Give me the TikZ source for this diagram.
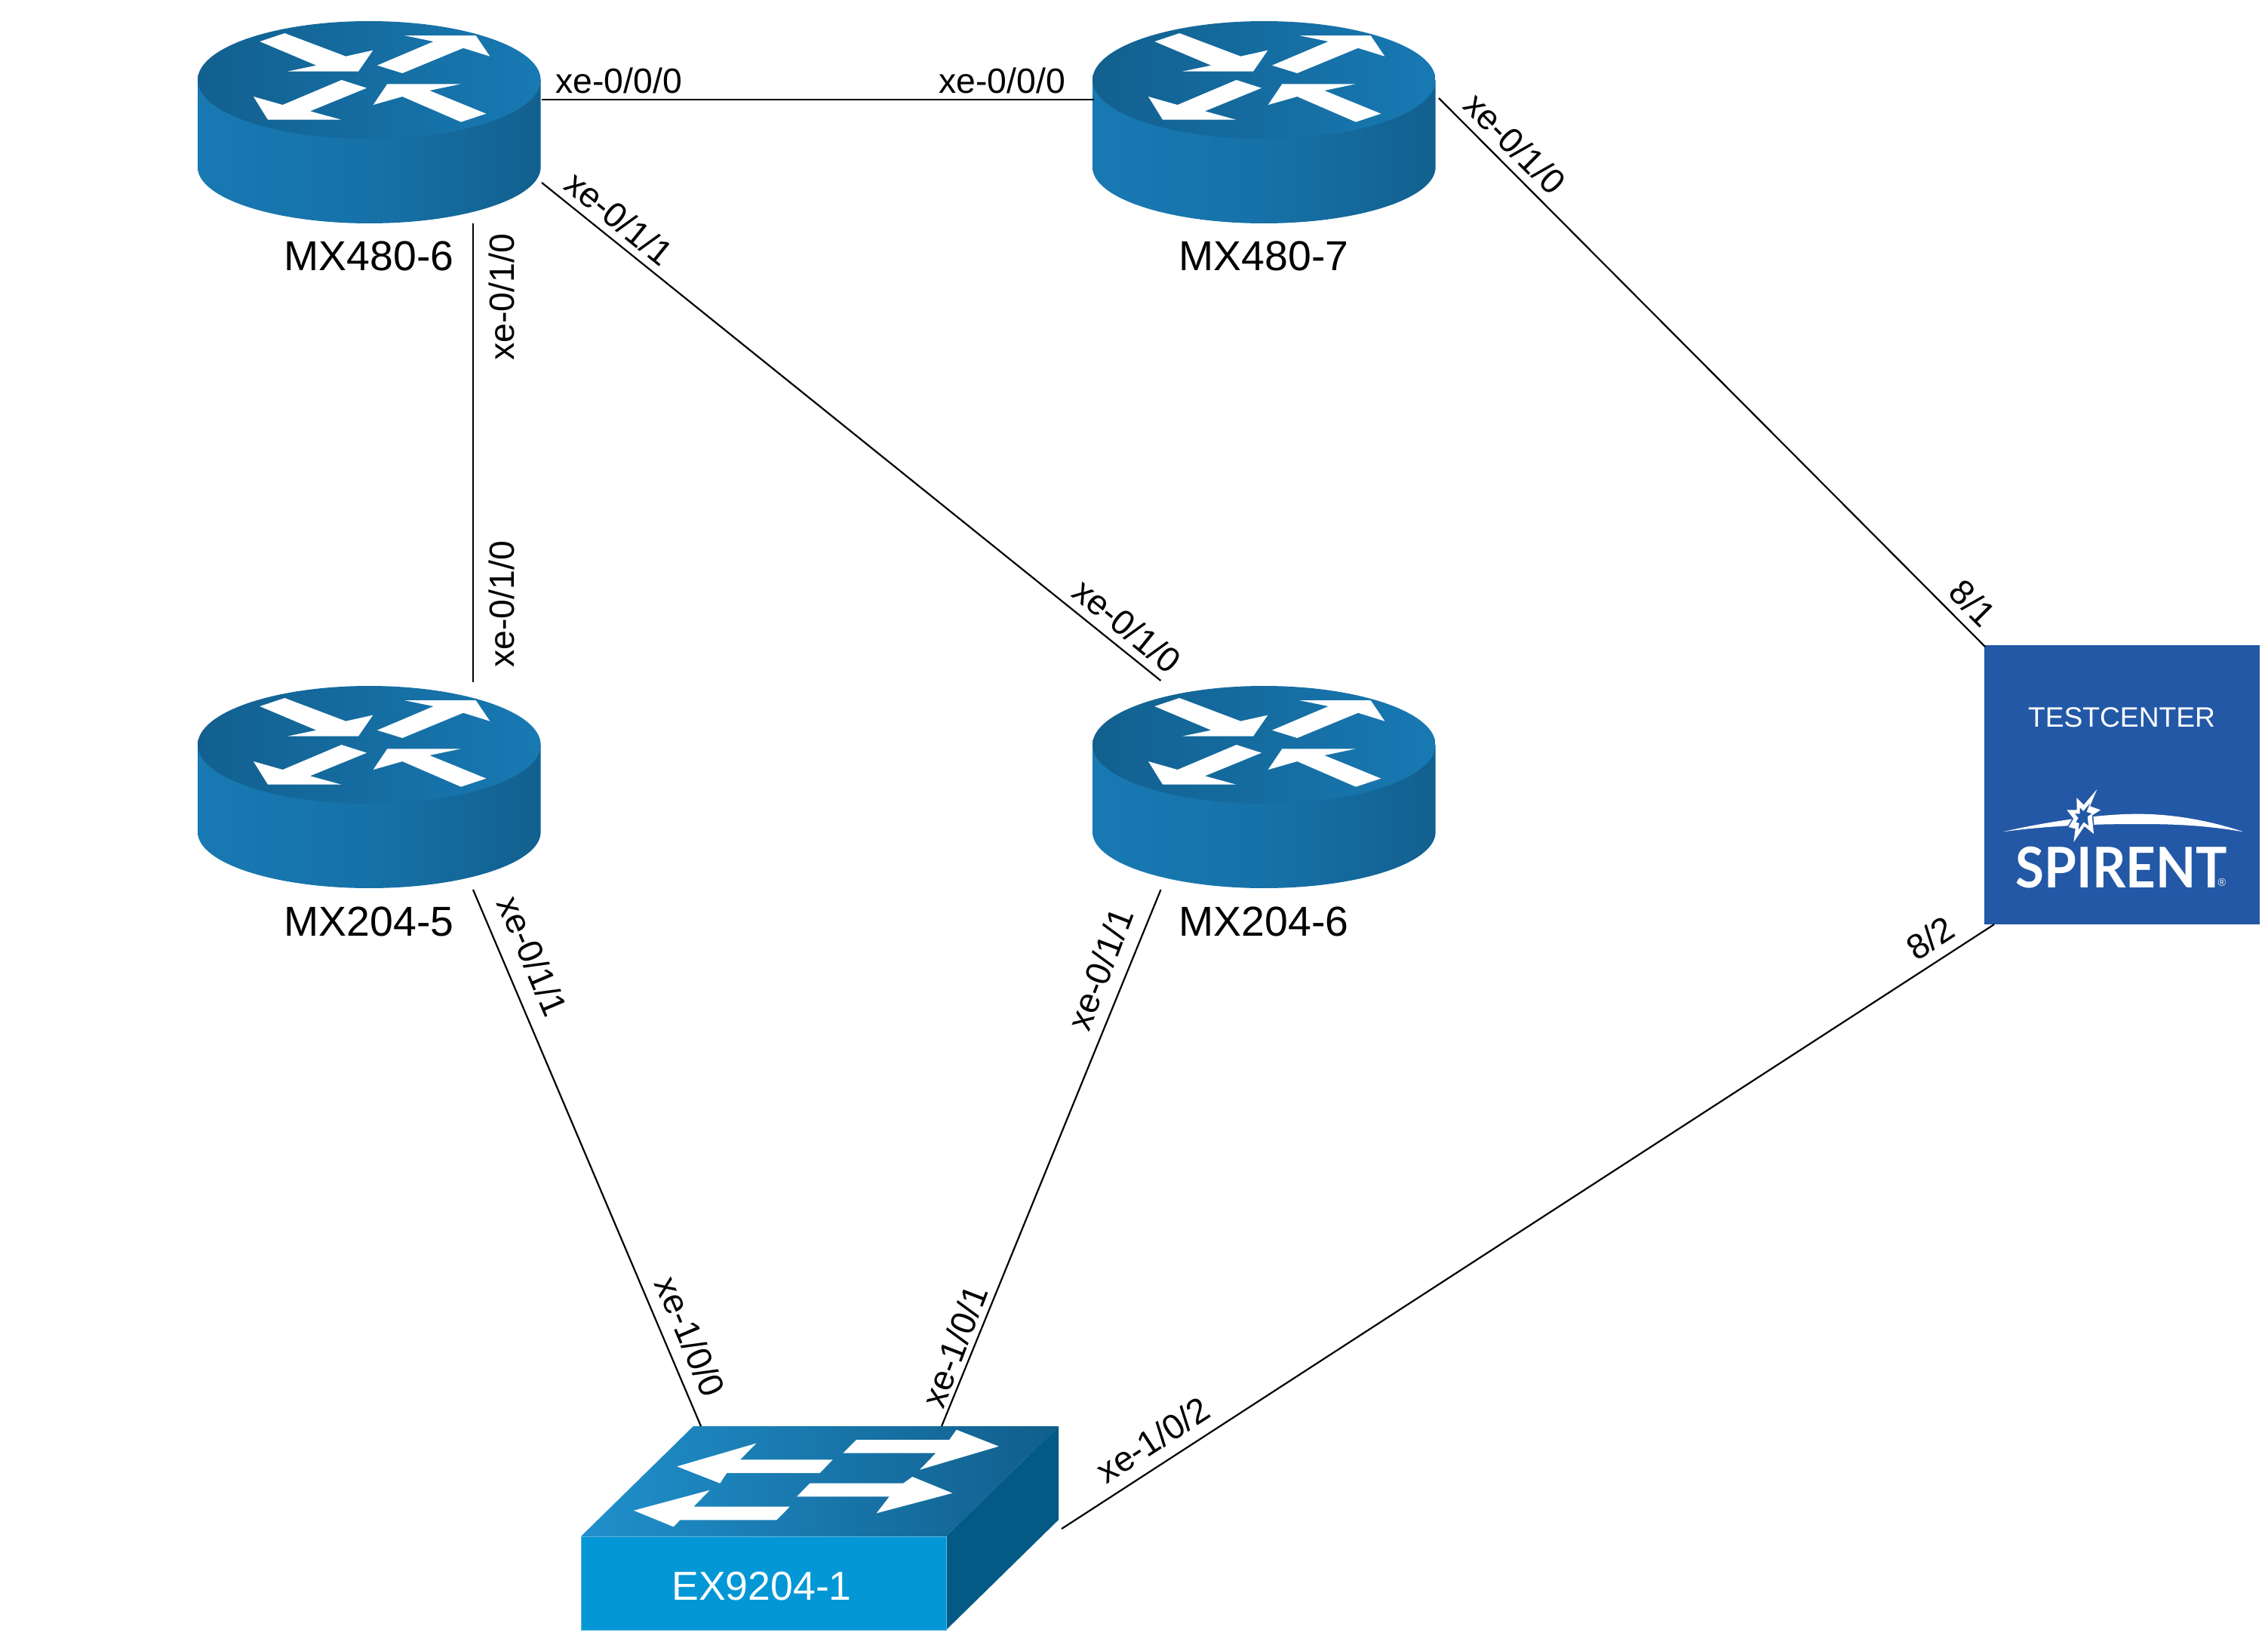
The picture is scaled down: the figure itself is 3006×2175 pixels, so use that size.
\documentclass[tikz,border=0pt]{standalone}
\usepackage{fontspec}
\setmainfont{Liberation Sans}
\newfontfamily\logofont{Lato}
\usetikzlibrary{calc}
\definecolor{rlight}{HTML}{1879B3}
\definecolor{rdark}{HTML}{12608F}
\definecolor{swfront}{HTML}{0397D6}
\definecolor{swedge}{HTML}{5CB8E2}
\definecolor{swside}{HTML}{025A85}
\definecolor{swtopa}{HTML}{2090CC}
\definecolor{swtopb}{HTML}{115E8B}
\definecolor{spirentblue}{HTML}{2358A6}
\tikzset{
  devbox/.style={inner sep=0pt,outer sep=0pt,minimum width=113.75pt,minimum height=67pt},
  swbox/.style={inner sep=0pt,outer sep=0pt,minimum width=158.5pt,minimum height=67.5pt},
  tcbox/.style={inner sep=0pt,outer sep=0pt,minimum width=91.25pt,minimum height=92.5pt,fill=spirentblue},
  link/.style={draw=black,line width=0.55pt},
  portlabel/.style={inner sep=0pt,font=\fontsize{11.6}{13}\selectfont},
  devlabel/.style={inner sep=0pt,font=\fontsize{13.85}{15}\selectfont},
  whitefill/.style={fill=white,draw=none},
}
\newcommand{\routershape}[2]{%
  \begin{scope}[shift={(#1,#2)},x=0.083333pt,y=-0.083333pt]
    \path[left color=rlight,right color=rdark,middle color=rlight!70!rdark]
      (66,318) -- (66,665) arc (180:360:56.83pt and 18.58pt) -- (1430,318) -- cycle;
    \path[left color=rdark,right color=rlight] (748,318) ellipse [x radius=56.83pt,y radius=19.5pt];
    \path[whitefill] (313,165) -- (412,132) -- (655,224) -- (763,200) -- (705,284) -- (423,284) -- (538,260) -- cycle;
    \path[whitefill] (780,260) -- (1004,165) -- (888,141) -- (1172,141) -- (1228,224) -- (1122,191) -- (880,291) -- cycle;
    \path[whitefill] (738,350) -- (638,318) -- (404,417) -- (288,384) -- (345,476) -- (637,476) -- (513,442) -- cycle;
    \path[whitefill] (1112,334) -- (820,334) -- (764,417) -- (880,384) -- (1113,485) -- (1213,452) -- (988,360) -- cycle;
  \end{scope}}
\begin{document}
\begin{tikzpicture}[x=0.25pt,y=-0.25pt]
\useasboundingbox (0,0) rectangle (3006,2175);

% routers
\routershape{240}{0}
\routershape{1426}{0}
\routershape{240}{881}
\routershape{1426}{881}
\node[devbox] (mx6) at (489.5,162) {};
\node[devbox] (mx7) at (1675.5,162) {};
\node[devbox] (mx5) at (489.5,1043) {};
\node[devbox] (mx8) at (1675.5,1043) {};
\node[devlabel] (lmx6) at (489,339) {MX480-6};
\node[devlabel] (lmx7) at (1675,339) {MX480-7};
\node[devlabel] (lmx5) at (489,1221) {MX204-5};
\node[devlabel] (lmx8) at (1675,1221) {MX204-6};

% switch
\path[left color=swtopa,right color=swtopb] (919,1890) -- (1403,1890) -- (1254,2036) -- (770,2036) -- cycle;
\path[fill=swside] (1403,1890) -- (1403,2014) -- (1254,2160) -- (1254,2036) -- cycle;
\path[fill=swfront,draw=swedge,line width=0.2pt] (770,2036) rectangle (1254,2160);
\path[whitefill] (897.3,1943.3) -- (1002.3,1912.7) -- (981,1934.3) -- (1103.7,1934.3) -- (1086.7,1952) -- (963.3,1952) -- (954.3,1965.7) -- cycle;
\path[whitefill] (840,2001.7) -- (940.7,1974.7) -- (919.3,1996.7) -- (1046.7,1996.7) -- (1029.3,2014.3) -- (901.3,2014.3) -- (892.7,2023.3) -- cycle;
\path[whitefill] (1135,1908) -- (1258.3,1908) -- (1267.7,1894.7) -- (1323.7,1916.7) -- (1219,1947.7) -- (1240.3,1925.7) -- (1117.3,1925.7) -- cycle;
\path[whitefill] (1073.3,1965.7) -- (1197,1965.7) -- (1209.3,1957) -- (1262.3,1978.7) -- (1161.7,2005.3) -- (1178.7,1983.3) -- (1056,1983.3) -- cycle;
\node[swbox] (sw) at (1086,2025) {};
\node[inner sep=0pt,text=white,font=\fontsize{13.4}{15}\selectfont] (lsw) at (1009.5,2102) {EX9204-1};

% Spirent box
\node[tcbox] (tc) at (2812.5,1040) {};
\node[inner sep=0pt,text=white,font=\fontsize{9.3}{11}\selectfont] (ltc) at (2812,951) {TESTCENTER};
\begin{scope}[shift={(2620,840)},x=0.083333pt,y=-0.083333pt]
  \path[whitefill] (103,787) .. controls (300,742) and (500,716) .. (640,716)
     .. controls (800,716) and (950,750) .. (1060,787)
     .. controls (900,760) and (780,756) .. (640,756)
     .. controls (500,756) and (300,760) .. (103,787) -- cycle;
\end{scope}
\begin{scope}[shift={(2720,1040)},x=0.083333pt,y=-0.083333pt]
  \path[fill=spirentblue,draw=spirentblue,line width=0.8pt] (178,18) -- (150,85) -- (192,100) -- (158,122) -- (165,195) -- (128,165) -- (85,228) -- (92,175) -- (65,168) -- (85,135) -- (58,100) -- (98,100) -- (97,52) -- (125,80) -- cycle;
  \path[whitefill] (178,18) -- (150,85) -- (192,100) -- (158,122) -- (165,195) -- (128,165) -- (85,228) -- (92,175) -- (65,168) -- (85,135) -- (58,100) -- (98,100) -- (97,52) -- (125,80) -- cycle;
  \path[fill=spirentblue] (150,74) -- (136,108) -- (157,115) -- (140,126) -- (144,162) -- (125,148) -- (104,179) -- (107,152) -- (94,149) -- (104,132) -- (90,115) -- (110,115) -- (110,91) -- (124,105) -- cycle;
\end{scope}
\node[inner sep=0pt,text=white,font=\logofont\bfseries\fontsize{18.6}{20}\selectfont] (lspirent) at (2812,1150) {\scalebox{0.93}[1]{SPIRENT}};
\node[inner sep=0pt,text=white,font=\fontsize{3.6}{4}\selectfont] (lreg) at (2945,1170) {®};

% connectors
\draw[link] ($(mx6.east)+(1,-30)$) -- ($(mx7.west)+(2,-30)$);
\draw[link] ($(mx6.east)+(1,80)$) -- ($(mx8.north)+(-137,-7)$);
\draw[link] ($(mx6.south)+(137.5,0)$) -- ($(mx5.north)+(137.5,-5)$);
\draw[link] ($(mx7.east)+(4,-32)$) -- ($(tc.north west)+(1,2)$);
\draw[link] ($(mx5.south)+(137.5,2)$) -- ($(sw.north)+(-157,0)$);
\draw[link] ($(mx8.south)+(-137,2)$) -- ($(sw.north)+(162,0)$);
\draw[link] ($(sw.east)+(4,1)$) -- ($(tc.south west)+(13,0)$);

% port labels
\node[portlabel] (p1) at (820,107) {xe-0/0/0};
\node[portlabel] (p2) at (1328,107) {xe-0/0/0};
\node[portlabel,rotate=-39] (p3) at (821,289) {xe-0/1/1};
\node[portlabel,rotate=-45] (p4) at (2008,190) {xe-0/1/0};
\node[portlabel,rotate=90] (p5) at (665,394) {xe-0/1/0};
\node[portlabel,rotate=90] (p6) at (665,801) {xe-0/1/0};
\node[portlabel,rotate=-39] (p7) at (1494,829) {xe-0/1/0};
\node[portlabel,rotate=-45] (p8) at (2615,799) {8/1};
\node[portlabel,rotate=33] (p9) at (2558,1243) {8/2};
\node[portlabel,rotate=-67] (p10) at (706,1267) {xe-0/1/1};
\node[portlabel,rotate=69] (p11) at (1458,1284) {xe-0/1/1};
\node[portlabel,rotate=-67] (p12) at (915,1771) {xe-1/0/0};
\node[portlabel,rotate=69] (p13) at (1265,1784) {xe-1/0/1};
\node[portlabel,rotate=33] (p14) at (1528,1908) {xe-1/0/2};
\end{tikzpicture}
\end{document}
